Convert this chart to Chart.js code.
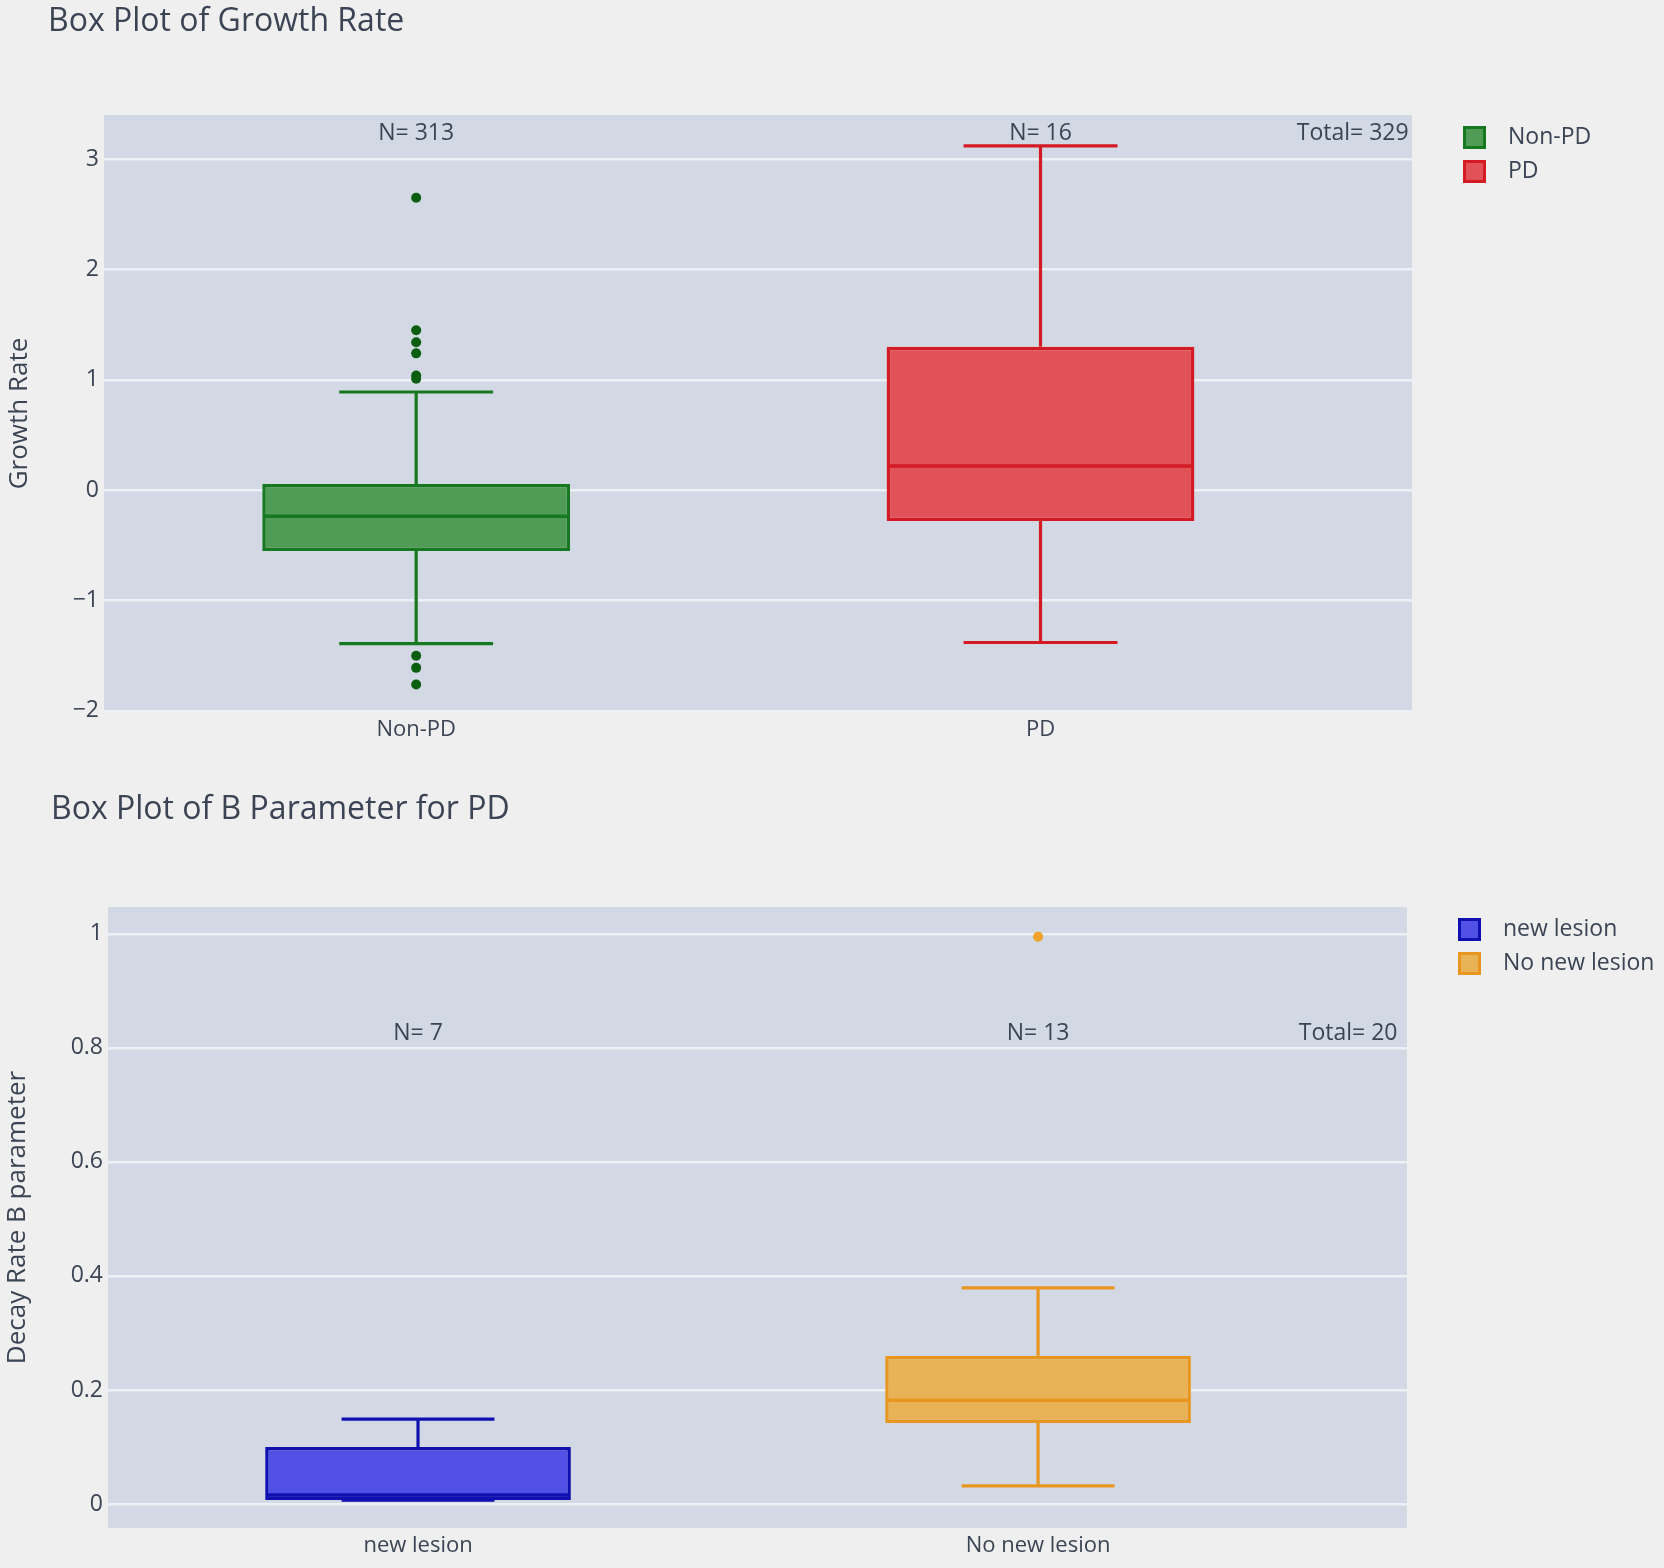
<!DOCTYPE html>
<html>
<head>
<meta charset="utf-8">
<script src="https://cdn.jsdelivr.net/npm/chart.js@4.4.1/dist/chart.umd.min.js"></script>
<style>
  body { margin: 0; background: #efefef; width: 1664px; height: 1568px; position: relative; overflow: hidden; font-family: 'Open Sans', sans-serif; }
  .holder { position: absolute; left: 0; width: 1664px; }
  .title { position: absolute; color: #3b4454; font-size: 32px; line-height: 40px; white-space: nowrap; }
</style>
</head>
<body>
<div class="holder" style="top:0;height:770px"><canvas id="growthChart"></canvas></div>
<div class="holder" style="top:770px;height:798px"><canvas id="decayChart"></canvas></div>
<div class="title" style="left:48px;top:-1px">Box Plot of Growth Rate</div>
<div class="title" style="left:51px;top:787px">Box Plot of B Parameter for PD</div>
<script>
// Growth rate box plot
var growthGroups = ['Non-PD', 'PD'];
var growthMin = [-1.39, -1.38];
var growthQ1 = [-0.55, -0.28];
var growthMedian = [-0.235, 0.22];
var growthQ3 = [0.055, 1.30];
var growthMax = [0.89, 3.12];
var growthOutliers = [[2.65, 1.45, 1.34, 1.24, 1.04, 1.01, -1.50, -1.61, -1.76], []];
var growthCounts = [313, 16];
var growthTicks = [-2, -1, 0, 1, 2, 3];

// B parameter box plot
var lesionGroups = ['new lesion', 'No new lesion'];
var lesionMin = [0.007, 0.032];
var lesionQ1 = [0.007, 0.142];
var lesionMedian = [0.016, 0.182];
var lesionQ3 = [0.10, 0.26];
var lesionMax = [0.149, 0.379];
var lesionOutliers = [[], [0.995]];
var lesionCounts = [7, 13];
var lesionTicks = [0, 0.2, 0.4, 0.6, 0.8, 1];

var family = "'Open Sans', sans-serif";
var textColor = '#3b4454';
var plotBg = '#d2d9e4';
var gridColor = '#edf0f5';
var legendFontSize = 23, legendSwatch = 23, legendSlot = 44, legendPad = 11;

// small square swatch used as the legend point style
function swatch(fill, line) {
  var c = document.createElement('canvas');
  c.width = legendSwatch; c.height = legendSwatch;
  var g = c.getContext('2d');
  g.fillStyle = fill;
  g.fillRect(0, 0, legendSwatch, legendSwatch);
  g.strokeStyle = line;
  g.lineWidth = 3;
  g.strokeRect(1.5, 1.5, legendSwatch - 3, legendSwatch - 3);
  return c;
}

// whiskers, caps, medians and N= labels, all through the chart scales
function boxExtras(cfg) {
  return {
    id: 'boxExtras',
    beforeDraw: function (chart) {
      var a = chart.chartArea, ctx = chart.ctx;
      ctx.save();
      ctx.fillStyle = plotBg;
      ctx.fillRect(a.left, a.top, a.right - a.left, a.bottom - a.top);
      ctx.restore();
    },
    afterDatasetsDraw: function (chart) {
      var ctx = chart.ctx, x = chart.scales.x, y = chart.scales.y;
      ctx.save();
      cfg.groups.forEach(function (g, i) {
        var bar = chart.getDatasetMeta(i).data[0];
        var cx = x.getPixelForValue(i), w = bar.width;
        ctx.strokeStyle = cfg.lines[i];
        ctx.lineWidth = 3.2;
        ctx.beginPath();
        ctx.moveTo(cx, y.getPixelForValue(cfg.q3[i]));
        ctx.lineTo(cx, y.getPixelForValue(cfg.max[i]));
        ctx.moveTo(cx, y.getPixelForValue(cfg.q1[i]));
        ctx.lineTo(cx, y.getPixelForValue(cfg.min[i]));
        [cfg.max[i], cfg.min[i]].forEach(function (v) {
          var py = y.getPixelForValue(v);
          ctx.moveTo(cx - w / 4, py);
          ctx.lineTo(cx + w / 4, py);
        });
        ctx.stroke();
        ctx.lineWidth = 3.5;
        ctx.beginPath();
        var my = y.getPixelForValue(cfg.median[i]);
        ctx.moveTo(cx - w / 2 + 2, my);
        ctx.lineTo(cx + w / 2 - 2, my);
        ctx.stroke();
        ctx.fillStyle = textColor;
        ctx.font = '23px ' + family;
        ctx.textAlign = 'center';
        ctx.textBaseline = 'middle';
        ctx.fillText('N= ' + cfg.counts[i], cx, y.getPixelForValue(cfg.labelY));
      });
      var total = cfg.counts.reduce(function (s, v) { return s + v; }, 0);
      ctx.fillText('Total= ' + total, x.getPixelForValue(1.5), y.getPixelForValue(cfg.labelY));
      ctx.restore();
    }
  };
}

function fmtTick(v) {
  return v < 0 ? '\u2212' + Math.abs(v) : String(v);
}

function makeChart(id, cfg) {
  // legend placed right of the plot: work out its width to place it
  var m = document.createElement('canvas').getContext('2d');
  m.font = legendFontSize + 'px ' + family;
  var tw = Math.max.apply(null, cfg.groups.map(function (t) { return m.measureText(t).width; }));
  var legendW = 2 * legendPad + legendSlot + legendFontSize / 2 + tw;
  var legendLeft = cfg.legendBoxLeft - (legendSlot - legendSwatch) / 2 - legendPad;
  var padRight = 1664 - legendLeft - legendW;
  var gapW = legendLeft - cfg.plotRight;

  var datasets = cfg.groups.map(function (g, i) {
    var row = [{ x: i, y: [cfg.q1[i], cfg.q3[i]] }];
    return {
      type: 'bar', label: g, data: row,
      backgroundColor: cfg.fills[i], borderColor: cfg.lines[i], borderWidth: 3.5,
      borderSkipped: false, grouped: false, categoryPercentage: 1, barPercentage: 0.493,
      pointStyle: swatch(cfg.fills[i], cfg.lines[i])
    };
  });
  cfg.outliers.forEach(function (list, i) {
    datasets.push({
      type: 'scatter', label: cfg.groups[i] + ' outliers',
      data: list.map(function (v) { return { x: i, y: v }; }),
      pointRadius: 5, pointBackgroundColor: cfg.dots[i], pointBorderWidth: 0
    });
  });

  return new Chart(document.getElementById(id), {
    type: 'bar',
    data: { datasets: datasets },
    options: {
      responsive: true, maintainAspectRatio: false, animation: false,
      layout: { padding: { left: 0, right: padRight, top: cfg.padTop, bottom: cfg.padBottom } },
      plugins: {
        tooltip: { enabled: false },
        legend: {
          position: 'right', align: 'start',
          labels: {
            usePointStyle: true, pointStyleWidth: legendSlot, padding: legendPad,
            color: textColor, font: { size: legendFontSize, family: family },
            filter: function (item) { return item.datasetIndex < cfg.groups.length; }
          }
        }
      },
      scales: {
        x: {
          type: 'linear', min: -0.5, max: 1.595, offset: false,
          grid: { display: false, offset: false }, border: { display: false },
          afterBuildTicks: function (s) { s.ticks = cfg.groups.map(function (g, i) { return { value: i }; }); },
          afterFit: function (s) { s.height = 40; },
          ticks: {
            padding: -3, color: textColor, font: { size: 22, family: family }, maxRotation: 0,
            callback: function (v) { return cfg.groups[v]; }
          }
        },
        y: {
          type: 'linear', min: cfg.yMin, max: cfg.yMax,
          grid: { color: gridColor, lineWidth: 2.5, drawTicks: false }, border: { display: false },
          afterBuildTicks: function (s) { s.ticks = cfg.ticks.map(function (v) { return { value: v }; }); },
          afterFit: function (s) { s.width = cfg.plotLeft; },
          ticks: { padding: 5, color: textColor, font: { size: 23, family: family }, callback: fmtTick },
          title: {
            display: true, text: cfg.yTitle, color: textColor,
            font: { size: 26, family: family }, padding: { top: cfg.yTitlePad, bottom: 0 }
          }
        },
        gap: {
          type: 'linear', position: 'right', display: true,
          grid: { display: false }, border: { display: false }, ticks: { display: false },
          afterFit: function (s) { s.width = gapW; }
        }
      }
    },
    plugins: [boxExtras(cfg)]
  });
}

makeChart('growthChart', {
  groups: growthGroups, min: growthMin, q1: growthQ1, median: growthMedian, q3: growthQ3, max: growthMax,
  outliers: growthOutliers, counts: growthCounts, ticks: growthTicks,
  yMin: -2.01, yMax: 3.40, labelY: 3.23, yTitle: 'Growth Rate', yTitlePad: 4,
  lines: ['#16781f', '#d41b24'], fills: ['#509c56', '#e05257'], dots: ['#0b5e0f', '#d41b24'],
  plotLeft: 104, plotRight: 1411, padTop: 115, padBottom: 18, legendBoxLeft: 1462
});

makeChart('decayChart', {
  groups: lesionGroups, min: lesionMin, q1: lesionQ1, median: lesionMedian, q3: lesionQ3, max: lesionMax,
  outliers: lesionOutliers, counts: lesionCounts, ticks: lesionTicks,
  yMin: -0.042, yMax: 1.047, labelY: 0.826, yTitle: 'Decay Rate B parameter', yTitlePad: 2,
  lines: ['#1010b0', '#e8961f'], fills: ['#5151e6', '#e8b257'], dots: ['#1010b0', '#f0a32a'],
  plotLeft: 108, plotRight: 1406, padTop: 137, padBottom: 0, legendBoxLeft: 1457
});
</script>
</body>
</html>
